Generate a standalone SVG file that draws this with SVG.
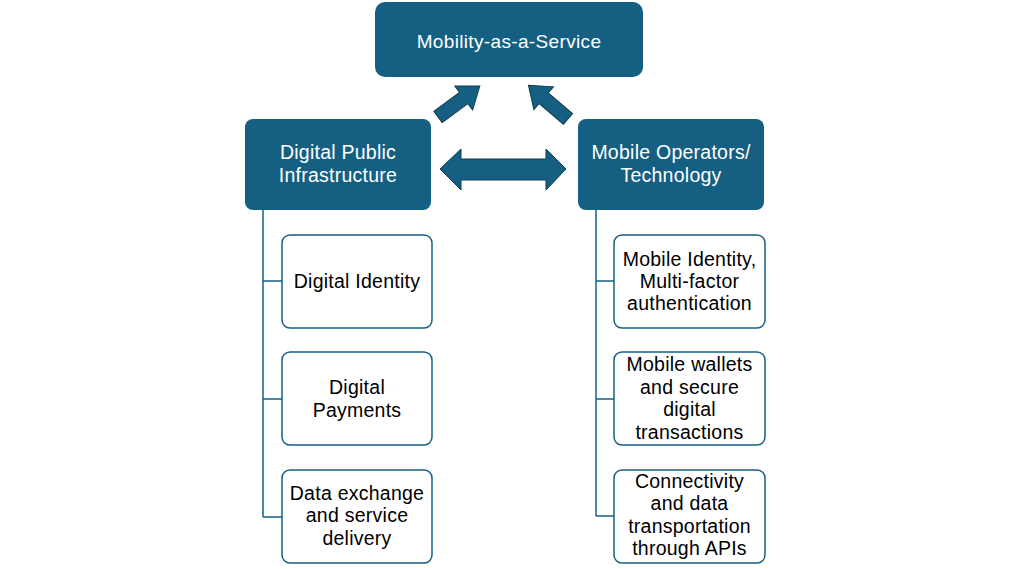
<svg xmlns="http://www.w3.org/2000/svg" width="1024" height="569" viewBox="0 0 1024 569">
<style>
.dark{fill:#156082;}
.lbl{font-family:"Liberation Sans",Arial,sans-serif;font-size:19.5px;letter-spacing:0.25px;text-anchor:middle;}
.w{fill:#ffffff;}
.k{fill:#000000;}
.child{fill:#ffffff;stroke:#156082;stroke-width:1.5;}
.line{fill:none;stroke:#156082;stroke-width:1.5;}
.arr{fill:#156082;stroke:#0E3A4E;stroke-width:1;}
</style>
<defs>
<polygon id="blk" points="0,-7 32,-7 32,-15 52,0 32,15 32,7 0,7"/>
</defs>
<rect width="1024" height="569" fill="#ffffff"/>
<g id="connectors">
<path class="line" d="M263,210 V517 M263,281 H282 M263,399 H282 M263,517 H282"/>
<path class="line" d="M596,210 V516 M596,281 H614 M596,399 H614 M596,516 H614"/>
<use href="#blk" class="arr" transform="translate(438,117) rotate(-36.5)"/>
<use href="#blk" class="arr" transform="translate(568,119) rotate(-139.5)"/>
<polygon class="arr" points="440,169 461,149 461,159 546,159 546,149 566,169 546,190 546,180 461,180 461,190"/>
</g>
<g id="maas">
<rect class="dark" x="375" y="2" width="268" height="75" rx="10"/>
<text class="lbl w" x="509" y="47.5" style="font-size:19px;letter-spacing:0.35px">Mobility-as-a-Service</text>
</g>
<g id="dpi">
<rect class="dark" x="245" y="119" width="186" height="91" rx="8"/>
<text class="lbl w" x="338" y="158.5">Digital Public</text>
<text class="lbl w" x="338" y="181.5">Infrastructure</text>
</g>
<g id="mot">
<rect class="dark" x="578" y="119" width="186" height="91" rx="8"/>
<text class="lbl w" x="671" y="158.5">Mobile Operators/</text>
<text class="lbl w" x="671" y="181.5">Technology</text>
</g>
<g id="digital-identity">
<rect class="child" x="282" y="235" width="150" height="93" rx="8"/>
<text class="lbl k" x="357" y="287.5">Digital Identity</text>
</g>
<g id="digital-payments">
<rect class="child" x="282" y="352" width="150" height="93" rx="8"/>
<text class="lbl k" x="357" y="393.5">Digital</text>
<text class="lbl k" x="357" y="416.5">Payments</text>
</g>
<g id="data-exchange">
<rect class="child" x="282" y="470" width="150" height="93" rx="8"/>
<text class="lbl k" x="357" y="499.5">Data exchange</text>
<text class="lbl k" x="357" y="522">and service</text>
<text class="lbl k" x="357" y="544.5">delivery</text>
</g>
<g id="mobile-identity">
<rect class="child" x="614" y="235" width="151" height="93" rx="8"/>
<text class="lbl k" x="689.5" y="265.5">Mobile Identity,</text>
<text class="lbl k" x="689.5" y="288">Multi-factor</text>
<text class="lbl k" x="689.5" y="310">authentication</text>
</g>
<g id="mobile-wallets">
<rect class="child" x="614" y="352" width="151" height="93" rx="8"/>
<text class="lbl k" x="689.5" y="371">Mobile wallets</text>
<text class="lbl k" x="689.5" y="393.5">and secure</text>
<text class="lbl k" x="689.5" y="416">digital</text>
<text class="lbl k" x="689.5" y="438.5">transactions</text>
</g>
<g id="connectivity">
<rect class="child" x="614" y="470" width="151" height="93" rx="8"/>
<text class="lbl k" x="689.5" y="487.5">Connectivity</text>
<text class="lbl k" x="689.5" y="510">and data</text>
<text class="lbl k" x="689.5" y="532.5">transportation</text>
<text class="lbl k" x="689.5" y="555">through APIs</text>
</g>
</svg>
